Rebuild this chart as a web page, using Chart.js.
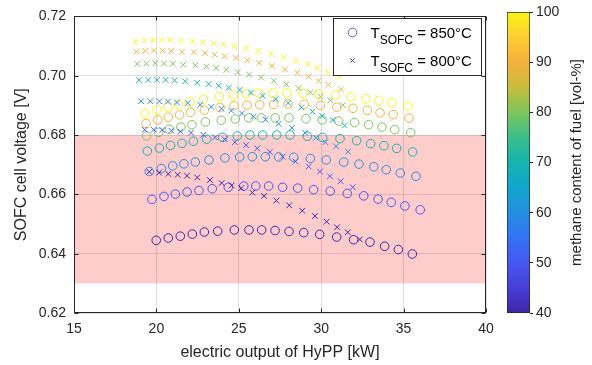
<!DOCTYPE html>
<html><head><meta charset="utf-8">
<script src="https://cdn.jsdelivr.net/npm/chart.js@4/dist/chart.umd.min.js"></script>
<style>
html,body{margin:0;padding:0;background:#fff;}
#wrap{position:relative;width:592px;height:365px;}
canvas{position:absolute;left:0;top:0;}
</style></head><body>
<div id="wrap"><canvas id="main" width="592" height="365"></canvas><canvas id="cbar" width="592" height="365"></canvas></div>
<script>
// ---------- data ----------
const methane = [40, 50, 60, 70, 80, 90, 100];
const xTicks = [15, 20, 25, 30, 35, 40];
const yTicks = [0.62, 0.64, 0.66, 0.68, 0.70, 0.72];
const cbTicks = [40, 50, 60, 70, 80, 90, 100];
const limitBand = [0.63, 0.68];
const legendTemps = ['850', '800'];

// T_SOFC = 850 °C (circles)
const x850_40 = [19.99,20.72,21.45,22.18,22.91,23.72,24.73,25.62,26.39,27.20,28.05,28.94,29.91,30.94,31.97,32.96,33.85,34.68,35.53];
const y850_40 = [0.6445,0.6453,0.6459,0.6466,0.6473,0.6476,0.6480,0.6480,0.6480,0.6478,0.6475,0.6471,0.6465,0.6456,0.6447,0.6439,0.6425,0.6414,0.6399];
const x850_50 = [19.73,20.46,21.15,21.86,22.58,23.39,24.36,25.30,26.03,26.81,27.66,28.57,29.54,30.55,31.58,32.58,33.45,34.25,35.08,36.01];
const y850_50 = [0.6583,0.6593,0.6601,0.6608,0.6613,0.6619,0.6624,0.6628,0.6628,0.6628,0.6624,0.6621,0.6616,0.6611,0.6603,0.6595,0.6584,0.6573,0.6561,0.6548];
const x850_60 = [19.57,20.30,20.99,21.67,22.36,23.19,24.16,25.05,25.82,26.61,27.42,28.33,29.34,30.31,31.37,32.29,33.19,33.95,34.80,35.75];
const y850_60 = [0.6677,0.6687,0.6696,0.6703,0.6709,0.6716,0.6723,0.6726,0.6727,0.6727,0.6726,0.6725,0.6721,0.6716,0.6709,0.6702,0.6693,0.6683,0.6672,0.6661];
const x850_70 = [19.45,20.18,20.86,21.55,22.24,23.05,24.02,24.91,25.68,26.45,27.30,28.11,29.16,30.09,31.14,32.15,33.00,33.81,34.58,35.55];
const y850_70 = [0.6746,0.6756,0.6765,0.6772,0.6779,0.6786,0.6792,0.6797,0.6800,0.6800,0.6800,0.6800,0.6796,0.6792,0.6788,0.6781,0.6771,0.6764,0.6755,0.6743];
const x850_80 = [19.41,20.14,20.78,21.49,22.16,22.97,23.94,24.79,25.60,26.37,27.21,28.05,29.08,30.05,31.06,32.03,32.88,33.69,34.46,35.43];
const y850_80 = [0.6797,0.6809,0.6819,0.6827,0.6835,0.6844,0.6850,0.6854,0.6858,0.6858,0.6858,0.6858,0.6855,0.6851,0.6847,0.6842,0.6835,0.6827,0.6818,0.6808];
const x850_90 = [19.37,20.08,20.72,21.41,22.08,22.91,23.86,24.71,25.50,26.27,27.12,27.99,28.97,29.95,30.94,31.93,32.80,33.57,34.37,35.33];
const y850_90 = [0.6839,0.6851,0.6860,0.6868,0.6877,0.6884,0.6893,0.6899,0.6901,0.6902,0.6903,0.6905,0.6904,0.6900,0.6894,0.6890,0.6883,0.6875,0.6869,0.6857];
const x850_100 = [19.31,20.04,20.69,21.35,22.04,22.85,23.82,24.67,25.44,26.23,27.06,27.92,28.88,29.85,30.86,31.79,32.72,33.49,34.30,35.25];
const y850_100 = [0.6872,0.6885,0.6894,0.6903,0.6912,0.6920,0.6930,0.6934,0.6939,0.6941,0.6941,0.6942,0.6941,0.6938,0.6934,0.6929,0.6922,0.6917,0.6909,0.6898];

// T_SOFC = 800 °C (crosses)
const x800_40 = [19.57,20.16,20.72,21.29,21.86,22.48,23.25,23.96,24.57,25.15,25.82,26.53,27.28,28.06,28.85,29.62,30.33,30.96,31.61,32.34];
const y800_40 = [0.6676,0.6673,0.6669,0.6666,0.6663,0.6657,0.6648,0.6638,0.6630,0.6621,0.6606,0.6595,0.6579,0.6563,0.6545,0.6527,0.6508,0.6489,0.6472,0.6448];
const x800_50 = [19.29,19.84,20.36,20.90,21.45,22.10,22.85,23.56,24.14,24.76,25.44,26.12,26.88,27.66,28.44,29.24,29.93,30.53,31.18,31.91];
const y800_50 = [0.6818,0.6818,0.6817,0.6815,0.6812,0.6808,0.6801,0.6792,0.6786,0.6776,0.6766,0.6755,0.6743,0.6727,0.6711,0.6694,0.6677,0.6661,0.6644,0.6624];
const x800_60 = [19.07,19.63,20.18,20.70,21.25,21.90,22.65,23.33,23.94,24.54,25.19,25.88,26.63,27.41,28.22,29.03,29.68,30.25,30.90,31.63];
const y800_60 = [0.6914,0.6914,0.6914,0.6913,0.6910,0.6908,0.6902,0.6895,0.6889,0.6882,0.6873,0.6863,0.6852,0.6838,0.6824,0.6807,0.6791,0.6776,0.6762,0.6744];
const x800_70 = [18.94,19.51,20.04,20.56,21.11,21.75,22.48,23.17,23.78,24.39,25.05,25.74,26.45,27.24,28.00,28.79,29.48,30.06,30.70,31.43];
const y800_70 = [0.6985,0.6986,0.6986,0.6986,0.6984,0.6981,0.6976,0.6972,0.6966,0.6960,0.6952,0.6943,0.6932,0.6921,0.6908,0.6893,0.6879,0.6864,0.6851,0.6832];
const x800_80 = [18.84,19.39,19.93,20.46,20.99,21.63,22.36,23.03,23.63,24.24,24.93,25.62,26.35,27.12,27.88,28.63,29.34,29.95,30.55,31.31];
const y800_80 = [0.7040,0.7041,0.7042,0.7041,0.7040,0.7037,0.7035,0.7031,0.7026,0.7020,0.7012,0.7004,0.6994,0.6983,0.6971,0.6958,0.6944,0.6930,0.6917,0.6901];
const x800_90 = [18.78,19.33,19.85,20.38,20.90,21.55,22.28,22.95,23.54,24.14,24.81,25.52,26.24,27.01,27.80,28.55,29.24,29.84,30.44,31.20];
const y800_90 = [0.7081,0.7084,0.7085,0.7085,0.7084,0.7081,0.7079,0.7076,0.7071,0.7066,0.7060,0.7052,0.7043,0.7033,0.7021,0.7010,0.6997,0.6983,0.6970,0.6954];
const x800_100 = [18.72,19.27,19.79,20.31,20.84,21.49,22.21,22.83,23.48,24.08,24.73,25.46,26.18,26.94,27.73,28.49,29.20,29.78,30.38,31.11];
const y800_100 = [0.7115,0.7118,0.7120,0.7121,0.7121,0.7119,0.7116,0.7113,0.7110,0.7105,0.7099,0.7092,0.7083,0.7074,0.7063,0.7050,0.7039,0.7027,0.7013,0.6998];

const xs850 = [x850_40, x850_50, x850_60, x850_70, x850_80, x850_90, x850_100];
const ys850 = [y850_40, y850_50, y850_60, y850_70, y850_80, y850_90, y850_100];
const xs800 = [x800_40, x800_50, x800_60, x800_70, x800_80, x800_90, x800_100];
const ys800 = [y800_40, y800_50, y800_60, y800_70, y800_80, y800_90, y800_100];

// ---------- styling ----------
const F = "'Liberation Sans', Arial, Helvetica, sans-serif";
const TXT = '#262626';
const cmapStops = [
  [0.000, [62, 38, 168]],
  [0.083, [70, 62, 215]],
  [0.167, [70, 88, 240]],
  [0.250, [50, 115, 245]],
  [0.333, [38, 142, 225]],
  [0.417, [18, 165, 205]],
  [0.500, [20, 180, 175]],
  [0.583, [60, 190, 140]],
  [0.667, [125, 198, 92]],
  [0.750, [200, 188, 60]],
  [0.833, [246, 176, 60]],
  [0.917, [252, 205, 50]],
  [1.000, [249, 245, 20]]
];
const cmin = 40, cmax = 100;
function cmap(v) {
  const t = Math.max(0, Math.min(1, (v - cmin) / (cmax - cmin)));
  for (let i = 1; i < cmapStops.length; i++) {
    const [t1, c1] = cmapStops[i];
    const [t0, c0] = cmapStops[i - 1];
    if (t <= t1) {
      const f = (t - t0) / (t1 - t0);
      const c = c0.map((a, k) => Math.round(a + (c1[k] - a) * f));
      return `rgb(${c[0]},${c[1]},${c[2]})`;
    }
  }
  const c = cmapStops[cmapStops.length - 1][1];
  return `rgb(${c[0]},${c[1]},${c[2]})`;
}

const datasets = [];
methane.forEach((m, i) => {
  datasets.push({
    label: '850 ' + m,
    data: xs800[i].map((x, j) => ({ x, y: ys800[i][j] })),
    pointStyle: 'crossRot', pointRadius: 4, borderWidth: 1,
    borderColor: cmap(m), backgroundColor: cmap(m), showLine: false
  });
});
methane.forEach((m, i) => {
  datasets.push({
    label: '800 ' + m,
    data: xs850[i].map((x, j) => ({ x, y: ys850[i][j] })),
    pointStyle: 'circle', pointRadius: 4.3, borderWidth: 1,
    borderColor: cmap(m), backgroundColor: 'rgba(0,0,0,0)', showLine: false
  });
});

const bandPlugin = {
  id: 'band',
  beforeDraw(chart) {
    const { ctx, chartArea: a, scales: { y } } = chart;
    const top = y.getPixelForValue(limitBand[1]);
    const bot = y.getPixelForValue(limitBand[0]);
    ctx.save();
    ctx.fillStyle = '#ffcccc';
    ctx.fillRect(a.left, top, a.right - a.left, bot - top);
    ctx.restore();
  }
};

const boxPlugin = {
  id: 'box',
  afterDatasetsDraw(chart) {
    const { ctx, chartArea: a, scales: { x, y } } = chart;
    ctx.save();
    ctx.strokeStyle = TXT; ctx.lineWidth = 1;
    const l = Math.round(a.left) + 0.5, r = Math.round(a.right) - 0.5;
    const t = Math.round(a.top) + 0.5, b = Math.round(a.bottom) - 0.5;
    ctx.strokeRect(l, t, r - l, b - t);
    const L = 4;
    ctx.beginPath();
    xTicks.forEach(v => {
      const px = Math.round(x.getPixelForValue(v)) + 0.5;
      ctx.moveTo(px, b); ctx.lineTo(px, b - L);
      ctx.moveTo(px, t); ctx.lineTo(px, t + L);
    });
    yTicks.forEach(v => {
      const py = Math.round(y.getPixelForValue(v)) + 0.5;
      ctx.moveTo(l, py); ctx.lineTo(l + L, py);
      ctx.moveTo(r, py); ctx.lineTo(r - L, py);
    });
    ctx.stroke();
    ctx.restore();
  }
};

const legendPlugin = {
  id: 'tlegend',
  afterDraw(chart) {
    const { ctx, chartArea: a } = chart;
    const bx = Math.round(a.right) - 152.5, by = Math.round(a.top) + 2.5, bw = 148, bh = 57;
    ctx.save();
    ctx.fillStyle = '#fff';
    ctx.fillRect(bx, by, bw, bh);
    ctx.strokeStyle = TXT; ctx.lineWidth = 1;
    ctx.strokeRect(bx, by, bw, bh);
    const rows = [
      { temp: legendTemps[0], style: 'circle', r: 4.3, color: 'rgb(88,88,230)', cy: by + 14 },
      { temp: legendTemps[1], style: 'crossRot', r: 3, color: 'rgb(70,45,165)', cy: by + 42 }
    ];
    rows.forEach(row => {
      ctx.lineWidth = 1;
      ctx.strokeStyle = row.color; ctx.fillStyle = 'rgba(0,0,0,0)';
      Chart.helpers.drawPoint(ctx, { pointStyle: row.style, radius: row.r, borderWidth: 1 }, bx + 19, row.cy);
      ctx.fillStyle = '#000';
      ctx.textBaseline = 'alphabetic'; ctx.textAlign = 'left';
      let x = bx + 37;
      const base = row.cy + 5.5;
      ctx.font = '15px ' + F;
      ctx.fillText('T', x, base); x += ctx.measureText('T').width;
      ctx.font = '12px ' + F;
      ctx.fillText('SOFC', x, base + 6); x += ctx.measureText('SOFC').width;
      ctx.font = '15px ' + F;
      ctx.fillText(' = ' + row.temp + '\u00B0C', x, base);
    });
    ctx.restore();
  }
};

new Chart(document.getElementById('main'), {
  type: 'scatter',
  data: { datasets },
  options: {
    responsive: false, animation: false, devicePixelRatio: 1,
    layout: { padding: { top: 12, right: 106, left: 0, bottom: 0 } },
    plugins: { legend: { display: false }, tooltip: { enabled: false } },
    scales: {
      x: {
        type: 'linear', min: xTicks[0], max: xTicks[xTicks.length - 1],
        afterBuildTicks: s => { s.ticks = xTicks.map(v => ({ value: v })); },
        afterFit: s => { s.height = 52; },
        grid: { color: 'rgba(38,38,38,0.15)', drawTicks: false },
        border: { display: false },
        ticks: { font: { family: F, size: 14 }, color: TXT, padding: 8, maxRotation: 0 },
        title: { display: true, text: 'electric output of HyPP [kW]', font: { family: F, size: 16 }, color: TXT, padding: { top: 0, bottom: 3 } }
      },
      y: {
        type: 'linear', min: yTicks[0], max: yTicks[yTicks.length - 1],
        afterBuildTicks: s => { s.ticks = yTicks.map(v => ({ value: v })); },
        afterFit: s => { s.width = 74; },
        grid: { color: 'rgba(38,38,38,0.15)', drawTicks: false },
        border: { display: false },
        ticks: { font: { family: F, size: 14 }, color: TXT, padding: 8, callback: v => Number(v).toFixed(2) },
        title: { display: true, text: 'SOFC cell voltage [V]', font: { family: F, size: 16 }, color: TXT, padding: { top: 12, bottom: 0 } }
      }
    }
  },
  plugins: [bandPlugin, boxPlugin, legendPlugin]
});

// ---------- colorbar ----------
const cbTitle = 'methane content of fuel [vol-%]';
const cbTitlePlugin = {
  id: 'cbtitle',
  afterDraw(chart) {
    const { ctx, chartArea: a } = chart;
    ctx.save();
    ctx.translate(a.right + 47, (a.top + a.bottom) / 2);
    ctx.rotate(-Math.PI / 2);
    ctx.font = '15px ' + F;
    ctx.fillStyle = TXT; ctx.textAlign = 'center'; ctx.textBaseline = 'middle';
    ctx.fillText(cbTitle, 0, 0);
    ctx.restore();
  }
};
new Chart(document.getElementById('cbar'), {
  type: 'bar',
  data: {
    labels: [''],
    datasets: [{
      data: [[cmin, cmax]],
      backgroundColor: (c) => {
        const ch = c.chart, a = ch.chartArea;
        if (!a) return 'rgba(0,0,0,0)';
        const g = ch.ctx.createLinearGradient(0, a.bottom, 0, a.top);
        cmapStops.forEach(([t, col]) => g.addColorStop(t, `rgb(${col[0]},${col[1]},${col[2]})`));
        return g;
      },
      borderColor: TXT, borderWidth: 1, borderSkipped: false,
      barPercentage: 1, categoryPercentage: 1
    }]
  },
  options: {
    responsive: false, animation: false, devicePixelRatio: 1,
    layout: { padding: { left: 507, top: 12, bottom: 52, right: 0 } },
    plugins: { legend: { display: false }, tooltip: { enabled: false } },
    scales: {
      x: { display: false },
      y: {
        position: 'right', min: cmin, max: cmax,
        afterBuildTicks: s => { s.ticks = cbTicks.map(v => ({ value: v })); },
        afterFit: s => { s.width = 62; },
        grid: { drawOnChartArea: false, drawTicks: true, tickLength: 3, color: TXT },
        border: { display: false },
        ticks: { font: { family: F, size: 14 }, color: TXT, padding: 3 }
      }
    }
  },
  plugins: [cbTitlePlugin]
});
</script>
</body></html>
